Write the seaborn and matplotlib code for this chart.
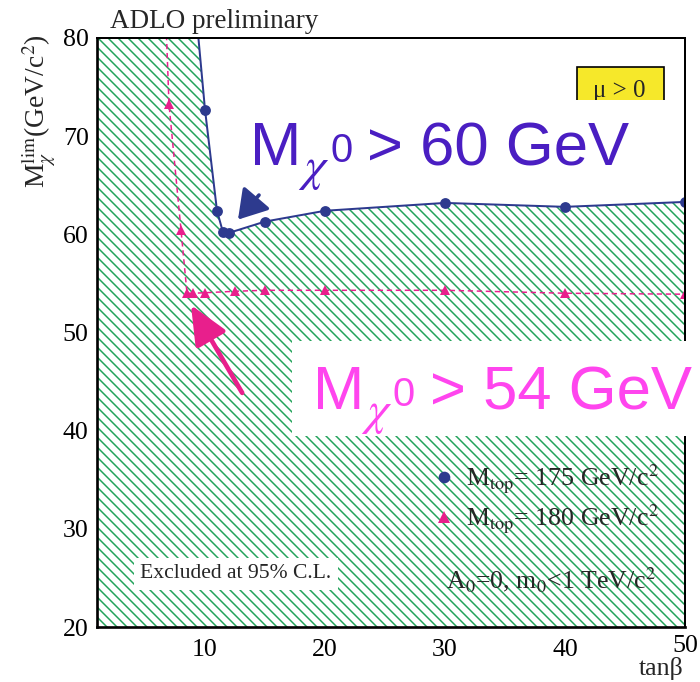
import numpy as np
import pandas as pd
import matplotlib
matplotlib.use("Agg")
import matplotlib.pyplot as plt
from matplotlib.lines import Line2D
from matplotlib.patches import Rectangle
from matplotlib.ticker import MultipleLocator
from matplotlib.transforms import ScaledTranslation
import seaborn as sns

# Neutralino mass limit vs tan(beta); the first point of each scan lies above the frame
tanb_175 = [9.0, 10.0, 11.0, 11.5, 12.0, 15.0, 20.0, 30.0, 40.0, 50.0]
mlim_175 = [86.0, 72.7, 62.4, 60.2, 60.15, 61.3, 62.4, 63.2, 62.8, 63.3]

tanb_180 = [6.5, 7.0, 8.0, 8.5, 9.0, 10.0, 12.5, 15.0, 20.0, 30.0, 40.0, 50.0]
mlim_180 = [90.0, 73.25, 60.45, 54.0, 54.0, 54.05, 54.2, 54.3, 54.3, 54.3, 54.0, 53.9]

x_range = [1.0, 50.0]
y_range = [20.0, 80.0]
x_ticks = [10, 20, 30, 40, 50]
y_ticks = [20, 30, 40, 50, 60, 70, 80]

legend_labels = [r"M$_{\rm top}$= 175 GeV/c$^2$", r"M$_{\rm top}$= 180 GeV/c$^2$"]

BLUE = "#2d3a8e"
PINK = "#e81f8c"
HATCH = "#22a35a"
PURPLE = "#4a1ec2"
MAGENTA = "#ff45ee"

df175 = pd.DataFrame({"tanb": tanb_175, "mlim": mlim_175})
df180 = pd.DataFrame({"tanb": tanb_180, "mlim": mlim_180})

sns.set_style("ticks")
plt.rcParams["font.family"] = ["Liberation Serif", "DejaVu Serif"]
plt.rcParams["mathtext.fontset"] = "stix"
plt.rcParams["hatch.linewidth"] = 0.9

DPI = 120
W, H = 700, 682
fig = plt.figure(figsize=(W / DPI, H / DPI), dpi=DPI)


def fx(px):
    return px / W


def fy(py):
    return 1 - py / H


ax = fig.add_axes([fx(97), fy(627), fx(685) - fx(97), fy(38) - fy(627)])

# excluded region below the Mtop = 175 curve
fill_x = [x_range[0]] + tanb_175
fill_y = [mlim_175[0]] + mlim_175
ax.fill_between(fill_x, y_range[0], fill_y, facecolor="white", edgecolor=HATCH,
                hatch="\\\\\\\\", linewidth=0, zorder=1)

sns.lineplot(data=df175, x="tanb", y="mlim", ax=ax, color=BLUE, lw=1.2,
             marker="o", markersize=6.5, markeredgewidth=0, zorder=4)
sns.lineplot(data=df180, x="tanb", y="mlim", ax=ax, color=PINK, lw=0.9,
             linestyle=(0, (3.5, 2.5)), marker="^", markersize=6.5,
             markeredgewidth=0, zorder=3)

ax.set_xlim(*x_range)
ax.set_ylim(*y_range)
ax.set_xticks(x_ticks)
ax.set_yticks(y_ticks)
ax.xaxis.set_minor_locator(MultipleLocator(2))
ax.yaxis.set_minor_locator(MultipleLocator(2))
ax.set_xlabel("")
ax.set_ylabel("")
ax.tick_params(which="both", direction="in", top=False, right=False,
               labelsize=15.5, width=1.1, colors="black")
ax.tick_params(which="major", length=7)
ax.tick_params(which="minor", length=3.5)
ax.tick_params(axis="x", which="major", pad=7.5)
ax.tick_params(axis="y", which="major", pad=5)
for side in ["top", "right"]:
    ax.spines[side].set_linewidth(1.2)
for side in ["left", "bottom"]:
    ax.spines[side].set_linewidth(1.6)
for s in ax.spines.values():
    s.set_color("black")
    s.set_zorder(5)

# the last x label sits a little higher, leaving room for the axis title
last_label = ax.xaxis.get_major_ticks()[-1].label1
last_label.set_transform(last_label.get_transform()
                         + ScaledTranslation(0, 4 / DPI, fig.dpi_scale_trans))

# pointer arrows
ax.annotate("", xy=(12.75, 61.5), xytext=(14.5, 64.0),
            arrowprops=dict(arrowstyle="-|>,head_length=0.8,head_width=0.5",
                            color=BLUE, lw=2.2, mutation_scale=18,
                            shrinkA=0, shrinkB=0), zorder=6)
ax.annotate("", xy=(8.83, 52.8), xytext=(13.1, 43.85),
            arrowprops=dict(arrowstyle="-|>,head_length=0.9,head_width=0.4",
                            color=PINK, lw=2.8, mutation_scale=22,
                            shrinkA=0, shrinkB=0), zorder=6)

handles = [
    Line2D([], [], ls="none", marker="o", color=BLUE, markersize=7, markeredgewidth=0),
    Line2D([], [], ls="none", marker="^", color=PINK, markersize=7, markeredgewidth=0),
]
leg = ax.legend(handles, legend_labels, loc="upper left",
                bbox_to_anchor=(fx(434), fy(463)), bbox_transform=fig.transFigure,
                frameon=False, fontsize=15.5, handlelength=0.8, handletextpad=0.45,
                borderpad=0, borderaxespad=0, labelspacing=0.27)
leg.set_zorder(6)

fig.text(fx(446), fy(588), r"A$_0$=0, m$_0$<1 TeV/c$^2$", fontsize=15.5,
         ha="left", va="baseline", zorder=9)
fig.text(fx(140), fy(578), "Excluded at 95% C.L.", fontsize=13, ha="left",
         va="baseline", zorder=9,
         bbox=dict(boxstyle="square,pad=0.3", fc="white", ec="none"))

fig.text(fx(110), fy(28), "ADLO preliminary", fontsize=16.3, ha="left", va="baseline")
fig.text(fx(684), fy(675), "tanβ", fontsize=15.5, ha="right", va="baseline")
fig.text(fx(39), fy(111), r"M$_{\chi}^{\rm lim}$(GeV/c$^2$)", rotation=90,
         fontsize=16.5, ha="center", va="center")

# sign of mu tag, partly covered by the headline box
fig.add_artist(Rectangle((fx(577), fy(112)), fx(664) - fx(577), fy(67) - fy(112),
                         transform=fig.transFigure, fc="#f6e82a", ec="black",
                         lw=1.0, zorder=5))
fig.text(fx(619), fy(97), "μ > 0", fontsize=15, ha="center", va="baseline", zorder=5.5)


def headline(x0, base, value, color):
    """Large 'M_chi0 > value GeV' statement built from its pieces."""
    kw = dict(color=color, ha="left", va="baseline", zorder=8)
    fig.text(fx(x0), fy(base), "M", family="Liberation Sans", fontsize=37, **kw)
    fig.text(fx(x0 + 48), fy(base + 15), r"$\chi$", fontsize=29, **kw)
    fig.text(fx(x0 + 80), fy(base - 3), "0", family="Liberation Sans", fontsize=24, **kw)
    fig.text(fx(x0 + 117), fy(base), f"> {value} GeV", family="Liberation Sans",
             fontsize=37, **kw)


fig.add_artist(Rectangle((fx(230), fy(150)), fx(680) - fx(230), fy(100) - fy(150),
                         transform=fig.transFigure, fc="white", ec="none", zorder=7))
headline(250, 165, 60, PURPLE)

fig.add_artist(Rectangle((fx(292), fy(436)), fx(700) - fx(292), fy(341) - fy(436),
                         transform=fig.transFigure, fc="white", ec="none", zorder=7))
headline(313, 409, 54, MAGENTA)

fig.savefig("out.png", dpi=DPI)
